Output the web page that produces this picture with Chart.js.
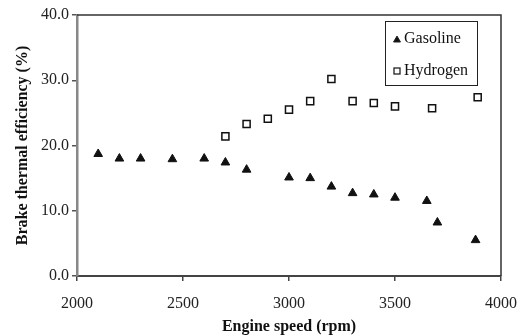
<!DOCTYPE html>
<html>
<head>
<meta charset="UTF-8">
<title>Brake thermal efficiency vs engine speed</title>
<script src="https://cdn.jsdelivr.net/npm/chart.js"></script>
<style>
    body { margin: 0; background: #ffffff; }
    #wrap { position: relative; width: 517px; height: 335px; }
</style>
</head>
<body>
<div id="wrap"><canvas id="chart" width="517" height="335"></canvas></div>
<script>
    // values
    const gasolineRpm = [2100, 2200, 2300, 2450, 2600, 2700, 2800, 3000, 3100, 3200, 3300, 3400, 3500, 3650, 3700, 3880];
    const gasolineEff = [18.7, 18.0, 18.0, 17.9, 18.0, 17.4, 16.3, 15.1, 15.0, 13.7, 12.7, 12.5, 12.0, 11.5, 8.2, 5.5];
    const hydrogenRpm = [2700, 2800, 2900, 3000, 3100, 3200, 3300, 3400, 3500, 3675, 3890];
    const hydrogenEff = [21.4, 23.3, 24.1, 25.5, 26.8, 30.2, 26.8, 26.5, 26.0, 25.7, 27.4];
    const yTicks = [0, 10, 20, 30, 40];
    const xTicks = [2000, 2500, 3000, 3500, 4000];

    const serif = '"Liberation Serif", "DejaVu Serif", serif';

    const toPoints = (xs, ys) => xs.map((x, i) => ({ x: x, y: ys[i] }));

    // top/right frame and legend box inside the plot
    const framePlugin = {
        id: 'frame',
        afterDraw(chart) {
            const { ctx, chartArea: a } = chart;
            ctx.save();
            ctx.strokeStyle = '#333';
            ctx.lineWidth = 1.5;
            ctx.beginPath();
            ctx.moveTo(a.left, a.top);
            ctx.lineTo(a.right, a.top);
            ctx.lineTo(a.right, a.bottom);
            ctx.stroke();

            // legend
            const bx = 385, by = 21, bw = 92, bh = 64;
            ctx.lineWidth = 1;
            ctx.strokeStyle = '#222';
            ctx.strokeRect(bx + 0.5, by + 0.5, bw, bh);
            ctx.font = '16px ' + serif;
            ctx.fillStyle = '#111';
            ctx.textBaseline = 'middle';
            Chart.helpers.drawPoint(ctx, { pointStyle: 'triangle', radius: 4, borderWidth: 1 }, bx + 12, by + 19);
            ctx.fillText('Gasoline', bx + 19, by + 18);
            ctx.lineWidth = 1.3;
            ctx.strokeRect(bx + 9, by + 47, 6, 6);
            ctx.fillText('Hydrogen', bx + 19, by + 50);
            ctx.restore();
        }
    };

    new Chart(document.getElementById('chart'), {
        type: 'scatter',
        data: {
            datasets: [{
                label: 'Gasoline',
                data: toPoints(gasolineRpm, gasolineEff),
                pointStyle: 'triangle',
                pointRadius: 5,
                backgroundColor: '#111',
                borderColor: '#111',
                borderWidth: 1
            }, {
                label: 'Hydrogen',
                data: toPoints(hydrogenRpm, hydrogenEff),
                pointStyle: 'rect',
                pointRadius: 5,
                backgroundColor: '#ffffff',
                borderColor: '#111',
                borderWidth: 1.5
            }]
        },
        options: {
            responsive: false,
            animation: false,
            layout: { padding: { top: 15, right: 16, left: 3, bottom: 0 } },
            plugins: {
                legend: { display: false },
                tooltip: { enabled: false }
            },
            scales: {
                x: {
                    type: 'linear',
                    min: 2000,
                    max: 4000,
                    afterBuildTicks: axis => { axis.ticks = xTicks.map(v => ({ value: v })); },
                    afterFit: axis => { axis.height = 59; axis.paddingRight = 0; axis.paddingLeft = 0; },
                    grid: { drawOnChartArea: false, drawTicks: true, tickLength: 5, color: '#444', lineWidth: 1.5 },
                    border: { color: '#444', width: 2 },
                    ticks: {
                        color: '#222',
                        font: { family: serif, size: 16 },
                        padding: 13,
                        maxRotation: 0,
                        callback: v => String(v)
                    },
                    title: {
                        display: true,
                        text: 'Engine speed (rpm)',
                        color: '#111',
                        font: { family: serif, size: 16, weight: 'bold' },
                        padding: { top: 4, bottom: -1 }
                    }
                },
                y: {
                    min: 0,
                    max: 40,
                    afterBuildTicks: axis => { axis.ticks = yTicks.map(v => ({ value: v })); },
                    afterFit: axis => { axis.width = 74; },
                    grid: { drawOnChartArea: false, drawTicks: true, tickLength: 5, color: '#555', lineWidth: 1.5 },
                    border: { color: '#888', width: 2.5 },
                    ticks: {
                        color: '#222',
                        font: { family: serif, size: 16 },
                        padding: 3,
                        callback: v => v.toFixed(1)
                    },
                    title: {
                        display: true,
                        text: 'Brake thermal efficiency (%)',
                        color: '#111',
                        font: { family: serif, size: 16, weight: 'bold' },
                        padding: { top: 10, bottom: 4 }
                    }
                }
            }
        },
        plugins: [framePlugin]
    });
</script>
</body>
</html>
